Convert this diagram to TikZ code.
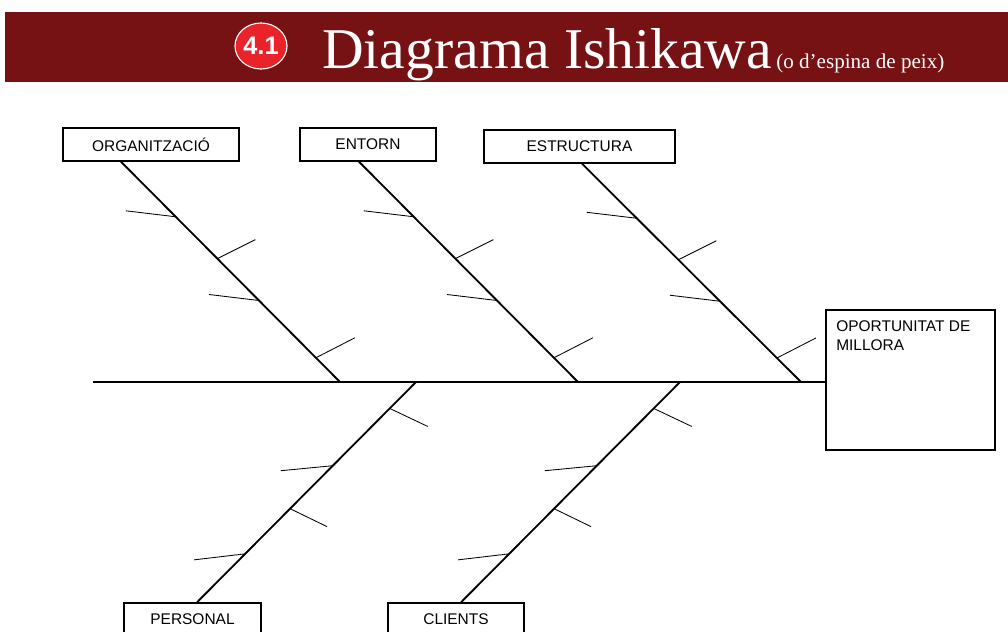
\documentclass[tikz,border=0pt]{standalone}
\usepackage{fontspec}
\setmainfont{Liberation Serif}
\setsansfont{Liberation Sans}
\usetikzlibrary{shapes.geometric}
\definecolor{header_red}{RGB}{119,18,20}
\definecolor{badge_red}{RGB}{232,36,42}
\tikzset{cause_box/.style={rectangle, draw=black, line width=1pt, inner sep=0pt, minimum height=0.825cm, font=\sffamily\fontsize{11}{13}\selectfont}}
\tikzset{bone/.style={line width=1.3pt}}
\tikzset{tick_line/.style={line width=0.6pt}}

\begin{document}
\begin{tikzpicture}[x=0.025cm, y=-0.025cm]
    \clip (0,0) rectangle (1008,632);
    % header band
    \fill[header_red] (5,12) rectangle (1008,82);
    \node[ellipse, fill=badge_red, draw=white, line width=0.8pt, minimum width=1.3cm, minimum height=1.15cm, inner sep=0pt, text=white, font=\sffamily\bfseries\fontsize{18}{18}\selectfont] (badge) at (261,46) {4.1};
    \node[anchor=base west, inner sep=0pt, text=white, font=\fontsize{41}{41}\selectfont] (title) at (322,68) {Diagrama Ishikawa};
    \node[anchor=base west, inner sep=0pt, text=white, font=\fontsize{15}{15}\selectfont] (subtitle) at (776,68) {(o d'espina de peix)};
    % cause boxes
    \node[cause_box, minimum width=4.4cm] (org) at (151,144.5) {ORGANITZACIÓ};
    \node[cause_box, minimum width=3.4cm] (ent) at (368,144.5) {ENTORN};
    \node[cause_box, minimum width=4.775cm] (est) at (579.5,146.5) {ESTRUCTURA};
    \node[cause_box, minimum width=3.425cm] (per) at (192.5,619.5) {PERSONAL};
    \node[cause_box, minimum width=3.4cm] (cli) at (456,619.5) {CLIENTS};
    % effect
    \node[rectangle, draw=black, line width=1pt, minimum width=4.225cm, minimum height=3.5cm] (effect) at (910.5,380) {};
    \node[anchor=north west, align=left, inner sep=0pt, font=\sffamily\fontsize{11}{13.5}\selectfont] (effect_text) at (836,320) {OPORTUNITAT DE\\MILLORA};
    % spine
    \coordinate (spine_tail) at (93,382);
    \draw[bone] (spine_tail) -- (spine_tail -| effect.west);
    % upper bones
    \foreach \b/\dx/\sx in {org/-30/340, ent/-9/578, est/2.5/801}{
      \coordinate (\b_head) at ([xshift=\dx*0.025cm]\b.south);
      \coordinate (\b_foot) at (\sx,382);
      \draw[bone] (\b_head) -- (\b_foot)
        coordinate[pos=0.25] (\b_1) coordinate[pos=0.44] (\b_2)
        coordinate[pos=0.63] (\b_3) coordinate[pos=0.89] (\b_4);
      \draw[tick_line] (\b_1) -- ++(-50,-6);
      \draw[tick_line] (\b_2) -- ++(38,-19);
      \draw[tick_line] (\b_3) -- ++(-50,-6);
      \draw[tick_line] (\b_4) -- ++(39,-20);
    }
    % lower bones
    \foreach \b/\dx/\sx in {per/4.5/416, cli/5/680}{
      \coordinate (\b_head) at ([xshift=\dx*0.025cm]\b.north);
      \coordinate (\b_foot) at (\sx,382);
      \draw[bone] (\b_foot) -- (\b_head)
        coordinate[pos=0.12] (\b_1) coordinate[pos=0.38] (\b_2)
        coordinate[pos=0.575] (\b_3) coordinate[pos=0.78] (\b_4);
      \draw[tick_line] (\b_1) -- ++(38,18);
      \draw[tick_line] (\b_2) -- ++(-52,5);
      \draw[tick_line] (\b_3) -- ++(37,18);
      \draw[tick_line] (\b_4) -- ++(-51,6);
    }
\end{tikzpicture}
\end{document}
